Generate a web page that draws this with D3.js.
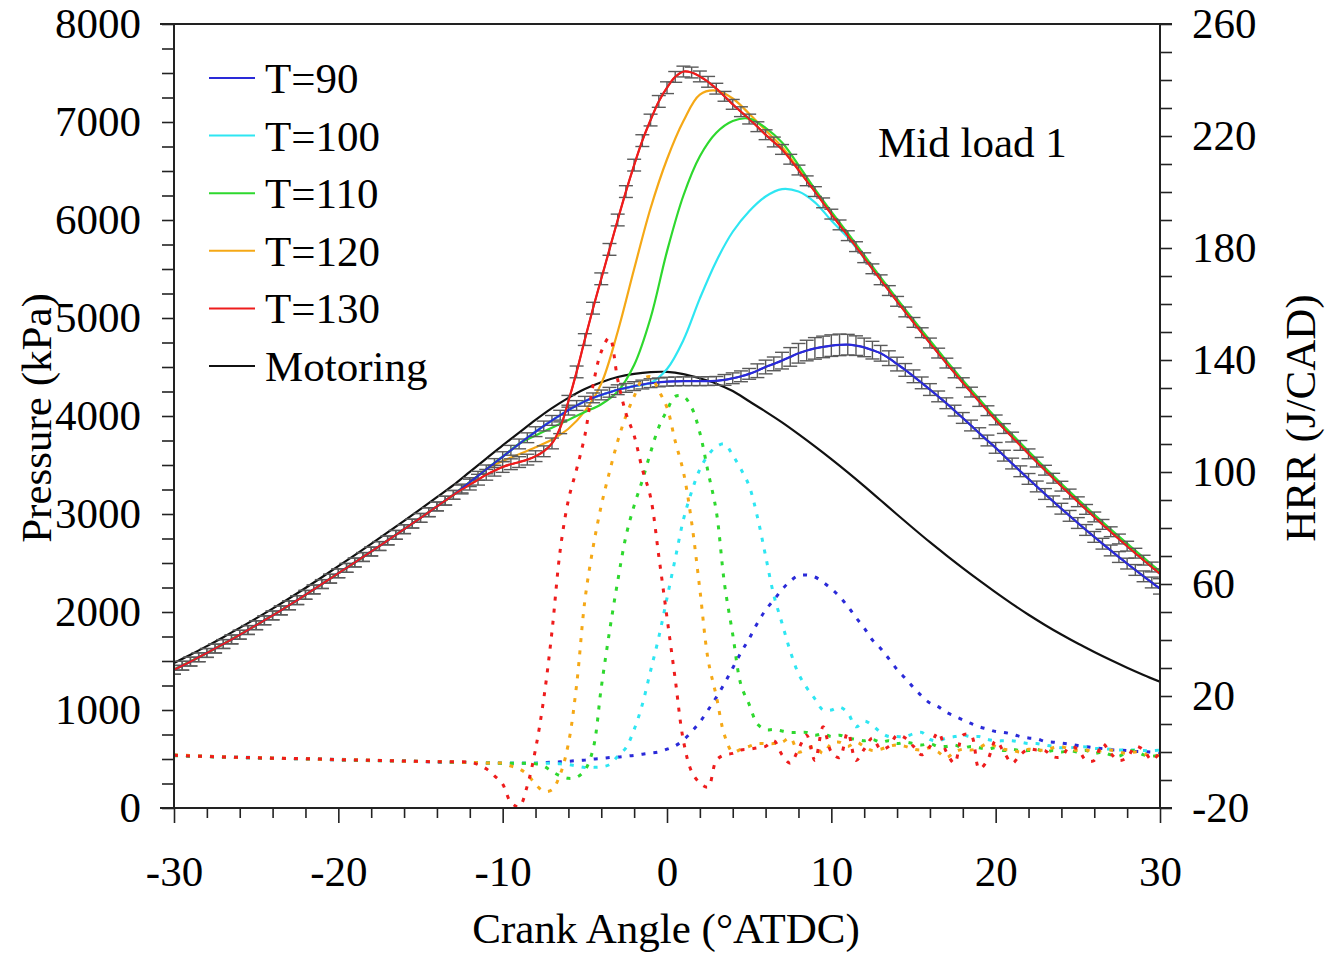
<!DOCTYPE html>
<html>
<head>
<meta charset="utf-8">
<script src="https://cdn.jsdelivr.net/npm/d3@7"></script>
<style>
html,body{margin:0;padding:0;background:#fff;}
svg text{font-family:"Liberation Serif","Times New Roman",serif;fill:#000;}
</style>
</head>
<body>
<svg id="chart" width="1326" height="953"></svg>
<script>
// ---------------- DATA ----------------
// Pressure, 1-degree grid (-30..30)
const motoring = [1480,1564,1652,1743,1838,1935,2035,2138,2245,2355,
  2468,2580,2695,2812,2930,3050,3172,3295,3430,3565,
  3700,3830,3960,4080,4185,4275,4345,4398,4430,4448,
  4450,4428,4385,4330,4255,4150,4045,3935,3815,3690,
  3560,3425,3285,3140,2995,2852,2712,2578,2448,2322,
  2200,2083,1972,1868,1770,1678,1592,1510,1432,1358,1288];
const p100 = [1410,1494,1582,1673,1768,1865,1965,2068,2175,2285,
  2395,2505,2617,2730,2845,2960,3077,3195,3325,3455,
  3585,3715,3840,3955,4060,4150,4215,4268,4305,4338,
  4480,4775,5200,5580,5880,6090,6240,6315,6290,6180,
  5995,5820,5610,5390,5170,4955,4745,4540,4340,4148,
  3960,3785,3614,3447,3284,3125,2970,2819,2672,2529,2390];
const p110 = [1410,1494,1582,1673,1768,1865,1965,2068,2175,2285,
  2395,2505,2617,2730,2845,2960,3077,3195,3325,3455,
  3585,3715,3800,3880,3960,4040,4120,4250,4520,5000,
  5680,6250,6650,6890,7010,7035,6940,6790,6560,6315,
  6085,5865,5640,5415,5195,4980,4770,4565,4365,4173,
  3985,3810,3639,3472,3309,3150,2995,2844,2697,2554,2415];
const p120 = [1410,1494,1582,1673,1768,1865,1965,2068,2175,2285,
  2395,2505,2617,2730,2845,2960,3077,3195,3325,3455,
  3540,3610,3680,3760,3870,4050,4330,4860,5500,6120,
  6620,7010,7280,7320,7240,7085,6915,6745,6522,6302,
  6072,5852,5627,5402,5182,4967,4757,4552,4352,4160,
  3972,3797,3626,3459,3296,3137,2982,2831,2684,2541,2402];
// Pressure, half-degree grid (-30..30) with measured scatter (kPa)
const p90 = [1410,1452,1494,1538,1582,1627,1673,1720,1768,1816,
  1865,1915,1965,2016,2068,2121,2175,2230,2285,2340,
  2395,2450,2505,2561,2617,2673,2730,2787,2845,2902,
  2960,3018,3077,3136,3195,3260,3325,3390,3455,3520,
  3585,3650,3715,3778,3840,3898,3955,4008,4060,4107,
  4150,4185,4215,4242,4268,4287,4305,4321,4335,4343,
  4350,4353,4355,4355,4355,4356,4358,4368,4385,4405,
  4430,4462,4500,4532,4565,4603,4640,4668,4690,4705,
  4718,4726,4728,4718,4700,4672,4640,4590,4530,4470,
  4405,4338,4270,4200,4130,4055,3980,3903,3825,3750,
  3675,3595,3515,3436,3358,3281,3204,3129,3054,2981,
  2908,2837,2766,2697,2628,2561,2494,2429,2364,2301,2238];
const p130 = [1410,1452,1494,1538,1582,1627,1673,1720,1768,1816,
  1865,1915,1965,2016,2068,2121,2175,2230,2285,2340,
  2395,2450,2505,2561,2617,2673,2730,2787,2845,2902,
  2960,3018,3077,3136,3195,3250,3300,3350,3400,3442,
  3480,3508,3530,3555,3590,3640,3720,3880,4150,4450,
  4780,5100,5400,5700,6000,6290,6560,6810,7020,7210,
  7350,7460,7515,7505,7465,7410,7340,7262,7180,7105,
  7030,6952,6870,6796,6720,6620,6510,6400,6290,6175,
  6060,5950,5840,5728,5615,5502,5390,5280,5170,5062,
  4955,4850,4745,4642,4540,4440,4340,4244,4148,4054,
  3960,3872,3785,3700,3614,3530,3447,3365,3284,3204,
  3125,3047,2970,2894,2819,2745,2672,2600,2529,2459,2390];
const sd90 = [45,45,45,45,45,45,45,45,45,45, 45,45,45,45,45,45,45,45,45,45,
  45,45,45,45,45,45,45,45,45,45, 45,45,45,45,45,45,45,45,45,45,
  50,50,50,50,50,50,50,50,50,50, 50,50,50,50,50,
  45,45,45,45,45,45,45,45,45,45,45,45,
  55,55,55,55, 70,70,70,
  85,95,100,105,110,110,110,110,105,100,95,90,80,
  75,70,65,65,60,60,
  55,55,55,55,55,55,55,55,55,55,55,55,55,55,55,55,55,55,55,55,55,55,55,55,55,55,55,55];
const sd130 = [45,45,45,45,45,45,45,45,45,45,45,45,45,45,45,45,45,45,
  45,45,45,45,45,45,45,45,45,45,45,45,45,45,45,45,45,45,
  55,55,55,55,55,55,55,55,55,55,55,
  60,60,60,60,60,60,60,60,60,60,60,60,60,60,
  55,55,55,55,55,55,
  50,50,50,50,50,50,50,50,50,50,50,50,50,50,50,50,50,50,50,50,50,50,50,50,50,50,50,
  50,50,50,50,50,50,50,50,50,50,50,50,50,50,50,50,50,50,50,50,50,50,50,50,50,50,50];

// Heat release rate (J/CAD): 2-degree steps from -30 to -12, then half-degree steps -11.5..30
const hrr90 = [-1.2,-1.6,-2.0,-2.2,-2.5,-2.8,-3.0,-3.2,-3.6,-3.8,
  -3.8,-3.9,-3.9,-4,-4,-4,-4,-4,-3.8,-3.6,
  -3.5,-3.3,-3.1,-2.9,-2.5,-2.3,-2,-1.8,-1.5,-1.2,
  -0.8,-0.4,0,1,2.2,4.3,7.3,10.7,15,19.5,
  24.5,30,35.5,40.5,46,50.7,54.3,58,61,63,
  63.2,62.5,60.6,58.3,55.5,52,48,44.3,40,37,
  33.3,29.5,26.3,23,20,17.5,16.2,14.2,12.8,11.5,
  10.2,9,8.2,7.3,7,6.4,5.5,5,4.7,3.8,
  3.5,3.2,2.8,2.3,1.9,1.5,1.2,0.8,0.7,0.5,
  0.2,0.1,0,-0.5];
const hrr100 = [-1.1,-1.5,-1.8,-2.2,-2.5,-2.6,-3.0,-3.3,-3.5,-3.7,
  -3.8,-3.9,-4,-4,-4,-4,-4,-4,-4,-4,
  -4.2,-4.5,-5,-5.5,-5.5,-5.3,-4.5,-1.5,1.5,8,
  17,29,41,55,69,83,93,101,106,109,
  110,106,101,95,84,70,56,46,36,28,
  23,19,15,15,16,14,9,11,9.5,7,
  5.5,5.5,5.5,6.5,7,4.5,4,5,5.5,6,
  5.5,5.5,4.5,4,4,4,3.5,3,3,2.5,
  2,1.5,1.5,1.8,1.8,1.3,1.2,1,0.7,0.7,
  0.7,0.5,0.5,0.7];
const hrr110 = [-1.3,-1.7,-2.0,-2.3,-2.4,-2.8,-3.1,-3.2,-3.5,-3.8,
  -3.8,-3.9,-4,-4,-4,-4,-4,-4.2,-5,-7,
  -8.5,-9.4,-9,-6.5,1,23,43,61,77,88,
  97,107,116,122,127,127,123,114,100,86,
  60,42,24,17,10,8,8,7.5,7,7,
  7,6,6.5,5.5,6,5,4.5,4,4.5,3.5,
  4,3,3.5,3,2.5,3,2,2,2.5,1.5,
  2,1.5,1,1.5,0.5,1,0.5,0.5,1,0,
  0.5,0,0.5,0,0.5,-0.5,0,-1,-1.5,0,
  0.5,-1,-1.5,-1];
const hrr120 = [-1.0,-1.5,-1.9,-2.1,-2.5,-2.7,-2.9,-3.3,-3.4,-3.7,
  -3.8,-3.9,-4,-4,-5,-6,-8,-11.5,-14,-13.5,
  -8,3,24,54,73,88,100,111,120,127,
  133,134,129,123,111,100,82,58,33,20,
  6,0,1,2,3,3,3,3.5,5,0,
  1,2,-0.5,3,3.5,2,3.5,2,0.5,1,
  2,2.5,2,1,0.7,1.5,0,-2,0,1,
  0.7,1.5,3,2,1,0.7,0,1,0.7,0.7,
  1.5,1.9,1,0.5,0.7,0,0.5,0.7,0,-0.5,
  0,-0.5,-1.7,-1];
const hrr130 = [-1.2,-1.6,-1.9,-2.2,-2.4,-2.7,-3.0,-3.2,-3.5,-3.7,
  -4.5,-6,-8.5,-11.5,-18,-19.5,-12,1,19,43,
  72,90,101,113,131,143,148,133,121,113,
  101,91,70,48,26,4,-7,-11,-12.5,-3,
  -1,-0.5,0.7,1,1.5,2,4,-1,-4,1,
  6,-3,9,0,-2,7,-3,1,5,1,
  2,6,5,2,-1,2,7,0,-4,6,
  6,-6,-3,4,0,-4,-1,1,0.7,0.5,
  -1.7,-1.7,1.9,1,-3,-3,3,-0.5,-3,-2,
  2,0.7,-2.9,0];

const seriesNames = ["T=90","T=100","T=110","T=120","T=130","Motoring"];
const seriesColors = ["#2a2ad8","#2ee6f2","#2ed82e","#f5a816","#ee1c1c","#111111"];
const xTickLabels = [-30,-20,-10,0,10,20,30];
const leftTickLabels = [0,1000,2000,3000,4000,5000,6000,7000,8000];
const rightTickLabels = [-20,20,60,100,140,180,220,260];

// angle grids
const angle1 = d3.range(-30, 30.001, 1);
const angleHalf = d3.range(-30, 30.001, 0.5);
const hrrAngle = d3.range(-30, -11.999, 2).concat(d3.range(-11.5, 30.001, 0.5));

// ---------------- CHART ----------------
const svg = d3.select("#chart");
const L = 174, R = 1160, T = 24, B = 808;
const x = d3.scaleLinear().domain([-30, 30]).range([L, R]);
const yP = d3.scaleLinear().domain([0, 8000]).range([B, T]);
const yH = d3.scaleLinear().domain([-20, 260]).range([B, T]);

const FS = 43;
svg.append("defs").append("clipPath").attr("id","clip")
  .append("rect").attr("x",L).attr("y",T).attr("width",R-L).attr("height",B-T);

const plot = svg.append("g").attr("clip-path","url(#clip)");

const lineP = (xs, ys) => d3.line().curve(d3.curveCatmullRom.alpha(0.5))
  .x((d,i)=>x(xs[i])).y(d=>yP(d))(ys);
const lineH = (xs, ys) => d3.line().curve(d3.curveCatmullRom.alpha(0.5))
  .x((d,i)=>x(xs[i])).y(d=>yH(d))(ys);

// Pressure solid lines
const pSeries = [
  {a: angle1, v: motoring, c: seriesColors[5]},
  {a: angleHalf, v: p90, c: seriesColors[0]},
  {a: angle1, v: p100, c: seriesColors[1]},
  {a: angleHalf, v: p130, c: seriesColors[4]},
  {a: angle1, v: p120, c: seriesColors[3]},
  {a: angle1, v: p110, c: seriesColors[2]}
];
pSeries.forEach(s => {
  plot.append("path").attr("d", lineP(s.a, s.v))
    .attr("fill","none").attr("stroke", s.c).attr("stroke-width", 2.2);
});

// Error bars on T=90 and T=130
function errorBars(vals, sds) {
  const g = plot.append("g").attr("stroke", "#5a5a5a").attr("stroke-width", 1.4).attr("fill","none");
  vals.forEach((v,i) => {
    const cx = x(angleHalf[i]);
    const y1 = yP(v + sds[i]), y2 = yP(v - sds[i]);
    g.append("line").attr("x1",cx).attr("x2",cx).attr("y1",y1).attr("y2",y2);
    g.append("line").attr("x1",cx-7).attr("x2",cx+7).attr("y1",y1).attr("y2",y1);
    g.append("line").attr("x1",cx-7).attr("x2",cx+7).attr("y1",y2).attr("y2",y2);
  });
}
errorBars(p90, sd90);
errorBars(p130, sd130);
plot.append("path").attr("d", lineP(angleHalf, p90)).attr("fill","none").attr("stroke",seriesColors[0]).attr("stroke-width",1.8);
plot.append("path").attr("d", lineP(angleHalf, p130)).attr("fill","none").attr("stroke",seriesColors[4]).attr("stroke-width",1.8);

// HRR dotted lines
const hSeries = [
  {v: hrr90, c: seriesColors[0]},
  {v: hrr100, c: seriesColors[1]},
  {v: hrr110, c: seriesColors[2]},
  {v: hrr120, c: seriesColors[3]},
  {v: hrr130, c: seriesColors[4]}
];
hSeries.forEach(s => {
  plot.append("path").attr("d", lineH(hrrAngle, s.v))
    .attr("fill","none").attr("stroke", s.c).attr("stroke-width", 3)
    .attr("stroke-dasharray","4,8");
});

// ---------------- AXES ----------------
const axisColor = "#222";
svg.append("line").attr("x1",160).attr("x2",1172).attr("y1",T).attr("y2",T).attr("stroke",axisColor).attr("stroke-width",2);
svg.append("line").attr("x1",160).attr("x2",1172).attr("y1",B).attr("y2",B).attr("stroke",axisColor).attr("stroke-width",2);
svg.append("line").attr("x1",L).attr("x2",L).attr("y1",T).attr("y2",B+1).attr("stroke",axisColor).attr("stroke-width",2);
svg.append("line").attr("x1",R).attr("x2",R).attr("y1",T).attr("y2",B+1).attr("stroke",axisColor).attr("stroke-width",2);

function styleAxis(g) {
  g.select(".domain").remove();
  g.selectAll(".tick line").attr("stroke", axisColor).attr("stroke-width", 1.6);
  g.selectAll(".tick text").attr("font-size", FS).attr("font-family","Liberation Serif, Times New Roman, serif").attr("fill","#000");
}

svg.append("g").attr("transform",`translate(${L},0)`)
  .call(d3.axisLeft(yP).tickValues(d3.range(0, 8001, 250)).tickSize(12).tickPadding(21)
    .tickFormat(d => leftTickLabels.includes(d) ? String(d) : ""))
  .call(styleAxis);
svg.append("g").attr("transform",`translate(${R},0)`)
  .call(d3.axisRight(yH).tickValues(d3.range(-20, 260.001, 10)).tickSize(12).tickPadding(20)
    .tickFormat(d => rightTickLabels.includes(d) ? String(d) : ""))
  .call(styleAxis);
svg.append("g").attr("transform",`translate(0,${B})`)
  .call(d3.axisBottom(x).tickValues(d3.range(-30, 30.001, 2).filter(d => !xTickLabels.includes(d))).tickSize(10).tickFormat(""))
  .call(styleAxis);
svg.append("g").attr("transform",`translate(0,${B})`)
  .call(d3.axisBottom(x).tickValues(xTickLabels).tickSize(15).tickPadding(32).tickFormat(d => String(d)))
  .call(styleAxis);

svg.append("text").attr("transform","translate(51,418) rotate(-90)").attr("text-anchor","middle")
  .attr("font-size",FS).text("Pressure (kPa)");
svg.append("text").attr("transform","translate(1315,418) rotate(-90)").attr("text-anchor","middle")
  .attr("font-size",FS).text("HRR (J/CAD)");
svg.append("text").attr("x",666).attr("y",943).attr("text-anchor","middle")
  .attr("font-size",FS).text("Crank Angle (°ATDC)");

svg.append("text").attr("x",878).attr("y",157).attr("font-size",FS).text("Mid load 1");

const lg = svg.append("g");
seriesNames.forEach((n,i) => {
  const yy = 78 + i*57.6;
  lg.append("line").attr("x1",209).attr("x2",255).attr("y1",yy).attr("y2",yy)
    .attr("stroke",seriesColors[i]).attr("stroke-width",2);
  lg.append("text").attr("x",265).attr("y",yy).attr("dy","0.35em").attr("font-size",FS).text(n);
});
</script>
</body>
</html>
